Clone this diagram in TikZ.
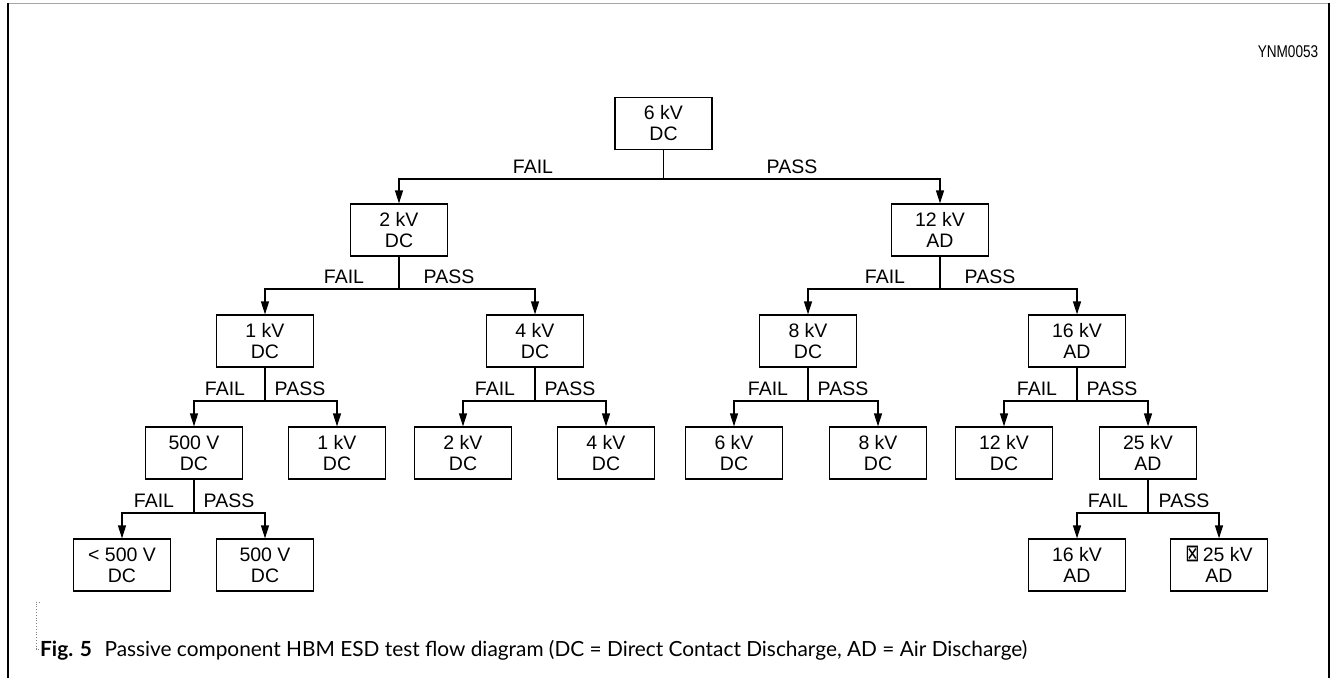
\documentclass[tikz,border=0pt]{standalone}
\usepackage{fontspec}
\setmainfont{Liberation Sans}
\newfontfamily\capfont{Lato}
\newfontfamily\symfont{DejaVu Sans}
\usetikzlibrary{arrows.meta}
\begin{document}
\begin{tikzpicture}[x=1pt,y=-1pt,
  box/.style={draw,line width=1.2pt,minimum width=97pt,minimum height=52pt,align=center,
    font=\fontsize{19.5}{21}\selectfont,inner sep=0pt},
  lbl/.style={anchor=base,font=\fontsize{19.5}{21}\selectfont,inner sep=0pt},
  conn/.style={line width=1.2pt},
  arr/.style={conn,-{Triangle[length=13pt,width=8pt]}}]
\useasboundingbox (0,0) rectangle (1338,678);
\fill[white] (0,0) rectangle (1338,678);
% frame
\draw[line width=1pt,gray!70] (8,3) -- (1329,3);
\draw[line width=1.5pt] (8,3) -- (8,678);
\draw[line width=1.5pt] (1329,3) -- (1329,678);
\node[font=\fontsize{17}{20}\selectfont,xscale=0.8,inner sep=0pt] (code) at (1288,52) {YNM0053};
% boxes
\node[box] (r) at (663.5,123.5) {6 kV\\DC};
\node[box] (a2) at (399,230) {2 kV\\DC};
\node[box] (b12) at (940,230) {12 kV\\AD};
\node[box] (c1) at (265,341) {1 kV\\DC};
\node[box] (c4) at (535,341) {4 kV\\DC};
\node[box] (c8) at (808,341) {8 kV\\DC};
\node[box] (c16) at (1077,341) {16 kV\\AD};
\node[box] (d500) at (194,453) {500 V\\DC};
\node[box] (d1) at (337,453) {1 kV\\DC};
\node[box] (d2) at (463,453) {2 kV\\DC};
\node[box] (d4) at (606,453) {4 kV\\DC};
\node[box] (d6) at (734,453) {6 kV\\DC};
\node[box] (d8) at (878,453) {8 kV\\DC};
\node[box] (d12) at (1004,453) {12 kV\\DC};
\node[box] (d25) at (1148,453) {25 kV\\AD};
\node[box] (e0) at (122,565) {< 500 V\\DC};
\node[box] (e500) at (265,565) {500 V\\DC};
\node[box] (e16) at (1077,565) {16 kV\\AD};
\node[box] (e25) at (1219,565) {\raisebox{0pt}[0pt][0pt]{\scalebox{0.85}[1.2]{\symfont\fontsize{20}{21}\selectfont ⊠}}\,25 kV\\AD};
% junctions
\coordinate (jr) at (663.5,179);
\coordinate (ja2) at (399,289);
\coordinate (jb12) at (940,289);
\coordinate (jc1) at (265,401);
\coordinate (jc4) at (535,401);
\coordinate (jc8) at (808,401);
\coordinate (jc16) at (1077,401);
\coordinate (jd500) at (194,513);
\coordinate (jd25) at (1148,513);
% connectors
\foreach \p/\a/\b in {r/a2/b12, a2/c1/c4, b12/c8/c16, c1/d500/d1, c4/d2/d4, c8/d6/d8, c16/d12/d25, d500/e0/e500, d25/e16/e25}{
  \draw[conn] (\p.south) -- (j\p);
  \draw[arr] (j\p) -| (\a.north);
  \draw[arr] (j\p) -| (\b.north);
}
% labels
\node[lbl] (lr1) at (533,173) {FAIL};
\node[lbl] (lr2) at (792,173) {PASS};
\node[lbl] (la1) at (344,283) {FAIL};
\node[lbl] (la2) at (449,283) {PASS};
\node[lbl] (lb1) at (885,283) {FAIL};
\node[lbl] (lb2) at (990,283) {PASS};
\node[lbl] (lc11) at (225,395) {FAIL};
\node[lbl] (lc12) at (300,395) {PASS};
\node[lbl] (lc41) at (495,395) {FAIL};
\node[lbl] (lc42) at (570,395) {PASS};
\node[lbl] (lc81) at (768,395) {FAIL};
\node[lbl] (lc82) at (843,395) {PASS};
\node[lbl] (lc161) at (1037,395) {FAIL};
\node[lbl] (lc162) at (1112,395) {PASS};
\node[lbl] (ld1) at (154,507) {FAIL};
\node[lbl] (ld2) at (229,507) {PASS};
\node[lbl] (ld251) at (1108,507) {FAIL};
\node[lbl] (ld252) at (1184,507) {PASS};
% caption
\draw[dotted,gray,line width=0.8pt] (40,602) -- (36,602) -- (36,649) -- (40,649);
\node[anchor=base west,inner sep=0pt] (cap) at (40,656)
  {\resizebox{987pt}{!}{\capfont\fontsize{16}{19}\selectfont\textbf{Fig. 5}\hspace{0.6em}Passive component HBM ESD test flow diagram (DC = Direct Contact Discharge, AD = Air Discharge)}};
\end{tikzpicture}
\end{document}
